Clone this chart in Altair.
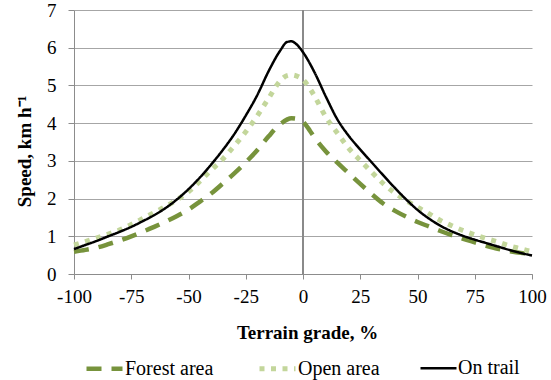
import altair as alt
import pandas as pd

SERIES = ["Forest area", "Open area", "On trail"]
COLORS = ["#77933C", "#C3D69B", "#000000"]
DASHES = [[15, 10], [5, 6.5], [1, 0]]
WIDTHS = [4.5, 5, 2.5]

forest_grade = [-100, -95, -90, -85, -80, -75, -70, -65, -60, -55, -50, -45, -40, -35, -30, -25, -20, -15,
                -10, -5, -3, 0, 3, 5, 10, 15, 20, 25, 30, 35, 40, 45, 50, 55, 60, 65, 70, 75, 80, 85, 90, 95, 100]
forest_speed = [0.59, 0.64, 0.70, 0.79, 0.89, 1.00, 1.12, 1.25, 1.39, 1.54, 1.71, 1.92, 2.14, 2.40, 2.67, 2.96, 3.28, 3.65,
                3.97, 4.13, 4.12, 4.04, 3.80, 3.62, 3.25, 2.95, 2.67, 2.39, 2.12, 1.87, 1.68, 1.52, 1.38, 1.26, 1.14, 1.03,
                0.93, 0.84, 0.75, 0.67, 0.61, 0.56, 0.53]

open_grade = [-100, -95, -90, -85, -80, -75, -70, -65, -60, -55, -50, -45, -40, -35, -30, -25, -20, -15, -10, -7,
              -5, -2, 0, 3, 5, 10, 15, 20, 25, 30, 35, 40, 45, 50, 55, 60, 65, 70, 75, 80, 85, 90, 95, 100]
open_speed = [0.77, 0.86, 0.96, 1.06, 1.17, 1.31, 1.47, 1.63, 1.79, 1.97, 2.18, 2.46, 2.76, 3.05, 3.40, 3.77, 4.19, 4.66,
              5.12, 5.26, 5.28, 5.23, 5.15, 4.92, 4.72, 4.16, 3.74, 3.33, 3.01, 2.70, 2.40, 2.15, 1.95, 1.77, 1.60, 1.42,
              1.28, 1.15, 1.04, 0.94, 0.85, 0.75, 0.67, 0.59]

trail_grade = [-100, -95, -90, -85, -80, -75, -70, -65, -60, -55, -50, -45, -40, -35, -30, -25, -20, -15, -10, -7,
               -5, -3, 0, 5, 10, 15, 20, 25, 30, 35, 40, 45, 50, 55, 60, 65, 70, 75, 80, 85, 90, 95, 100]
trail_speed = [0.66, 0.77, 0.88, 1.00, 1.12, 1.25, 1.40, 1.56, 1.75, 1.98, 2.25, 2.56, 2.91, 3.29, 3.71, 4.20, 4.74, 5.38,
               5.92, 6.15, 6.17, 6.10, 5.88, 5.35, 4.70, 4.10, 3.66, 3.30, 2.96, 2.62, 2.29, 1.98, 1.70, 1.47, 1.28, 1.13,
               1.01, 0.91, 0.82, 0.73, 0.64, 0.56, 0.49]

ZERO_GRADE = [0]

rows = []
for name, gs, ss in [("Forest area", forest_grade, forest_speed),
                     ("Open area", open_grade, open_speed),
                     ("On trail", trail_grade, trail_speed)]:
    for g, s in zip(gs, ss):
        rows.append({"Series": name, "grade": g, "speed": s})
df = pd.DataFrame(rows)
zero_df = pd.DataFrame({"grade": ZERO_GRADE})

FONT = "Liberation Serif, Times New Roman, Tinos, serif"

x_enc = alt.X("grade:Q",
              scale=alt.Scale(domain=[-100, 100], nice=False, zero=False),
              axis=alt.Axis(values=list(range(-100, 101, 25)), title="Terrain grade, %",
                            labelExpr="'' + datum.value", labelFlush=False, labelOverlap=False,
                            grid=False, titleX=233, titleY=58, titleBaseline="middle",
                            titleAlign="center", labelPadding=8, tickSize=5))
y_enc = alt.Y("speed:Q",
              scale=alt.Scale(domain=[0, 7], nice=False),
              axis=alt.Axis(values=list(range(0, 8)), title="Speed, km h⁻¹", grid=True,
                            labelFlush=False, labelOverlap=False,
                            titleX=-50, titleY=141, titleBaseline="middle", titleAlign="center",
                            titleAngle=270, labelPadding=12))

leg = alt.Legend(title=None)

lines = alt.Chart(df).mark_line(interpolate="monotone").encode(
    x=x_enc,
    y=y_enc,
    color=alt.Color("Series:N", scale=alt.Scale(domain=SERIES, range=COLORS), legend=leg),
    strokeDash=alt.StrokeDash("Series:N", scale=alt.Scale(domain=SERIES, range=DASHES), legend=leg),
    strokeWidth=alt.StrokeWidth("Series:N", scale=alt.Scale(type="ordinal", domain=SERIES, range=WIDTHS), legend=leg),
    order=alt.Order("grade:Q"),
)

zero_rule = alt.Chart(zero_df).mark_rule(color="#8a8a8a", strokeWidth=2).encode(
    x=alt.X("grade:Q", scale=alt.Scale(domain=[-100, 100], nice=False, zero=False))
)

chart = alt.layer(zero_rule, lines).properties(
    width=458, height=264,
    autosize=alt.AutoSizeParams(type="none"),
    padding={"left": 74, "top": 10, "right": 19, "bottom": 106},
    background="white",
).configure(font=FONT).configure_view(stroke=None).configure_axis(
    labelFont=FONT, labelFontSize=19, labelColor="#000000",
    titleFont=FONT, titleFontSize=19, titleFontWeight="bold", titleColor="#000000",
    domainColor="#8c8c8c", tickColor="#8c8c8c", tickSize=6, gridColor="#a6a6a6",
    domainWidth=1, tickWidth=1, gridWidth=1,
).configure_legend(
    orient="none", legendX=10, legendY=338, direction="horizontal",
    labelFont=FONT, labelFontSize=20, labelColor="#000000",
    symbolType="stroke", symbolSize=1296, labelOffset=0, columnPadding=35, padding=0,
)

chart.save("out.html", embed_options={"renderer": "svg", "actions": False})
